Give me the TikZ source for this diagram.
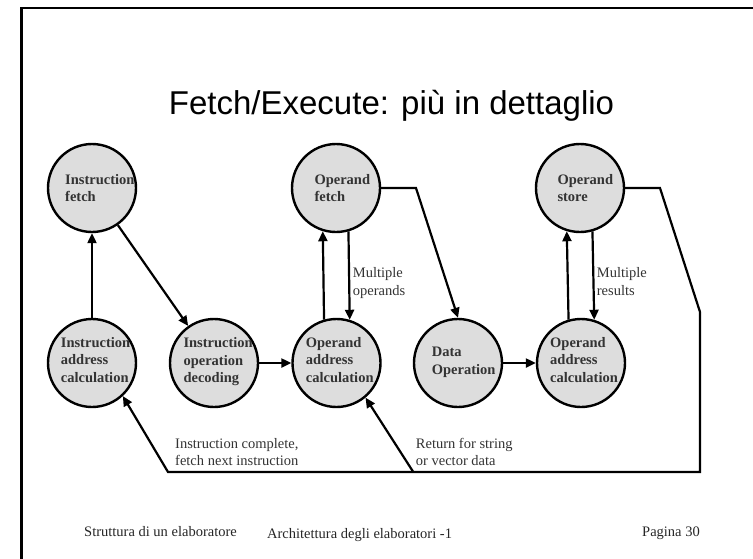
\documentclass[tikz,border=0pt]{standalone}
\usepackage{fontspec}
\setmainfont{Liberation Serif}
\newfontfamily\titlefont{Liberation Sans}
\usetikzlibrary{arrows.meta}
\definecolor{nodefill}{HTML}{DDDDDD}
\definecolor{txt}{HTML}{333333}
\begin{document}
\begin{tikzpicture}[x=1pt,y=-1pt,
  state/.style={circle,draw=black,line width=2.4pt,fill=nodefill,minimum size=88pt,inner sep=0pt},
  stxt/.style={font=\fontsize{14.5}{17.7}\selectfont\bfseries,text=txt,align=left,inner sep=0pt,anchor=west},
  lbl/.style={font=\fontsize{14.5}{17.7}\selectfont,text=txt,align=left,inner sep=0pt,anchor=west},
  foot/.style={font=\fontsize{14.5}{17.7}\selectfont,text=black!85,inner sep=0pt,anchor=base west},
  conn/.style={line width=2.2pt,-{Triangle[length=10pt,width=9pt]}},
]
\useasboundingbox (0,0) rectangle (753,558);
% frame
\draw[line width=2.6pt] (21.6,570) -- (21.6,8) -- (770,8);
% title
\node[font=\titlefont\fontsize{33}{40}\selectfont,anchor=base,inner sep=0pt] (title) at (391.5,114) {Fetch/Execute: più in dettaglio};
% states
\node[state] (IF) at (92,188) {};
\node[state] (OF) at (336,188) {};
\node[state] (OS) at (580,188) {};
\node[state] (IAC) at (92,363) {};
\node[state] (IOD) at (214,363) {};
\node[state] (OAC) at (336.5,363) {};
\node[state] (DO) at (458,363) {};
\node[state] (OAC2) at (581,363) {};
% state texts
\node[stxt] (IFt) at (65,188) {Instruction\\fetch};
\node[stxt] (OFt) at (314.3,188) {Operand\\fetch};
\node[stxt] (OSt) at (557.3,188) {Operand\\store};
\node[stxt] (IACt) at (60.7,360) {Instruction\\address\\calculation};
\node[stxt] (IODt) at (183.3,361.7) {Instruction\\operation\\decoding};
\node[stxt] (OACt) at (305.7,360) {Operand\\address\\calculation};
\node[stxt] (DOt) at (431.7,362.2) {Data\\Operation};
\node[stxt] (OAC2t) at (550,360) {Operand\\address\\calculation};
% coordinates
\coordinate (b1) at (416,188);
\coordinate (c1) at (660,188);
\coordinate (c2) at (700,312);
\coordinate (c3) at (700,472);
\coordinate (c4) at (168,472);
\coordinate (c5) at (413.3,472);
% connectors
\draw[conn] (IAC) -- (IF);
\draw[conn] (IF) -- (IOD);
\draw[conn] (IOD) -- (OAC);
\draw[conn] (OAC.106.5) -- (OF.253.5);
\draw[conn] (OF.286.5) -- (OAC.73.5);
\draw[conn] (OF.east) -- (b1) -- (DO.north);
\draw[conn] (DO) -- (OAC2);
\draw[conn] (OAC2.106.5) -- (OS.253.5);
\draw[conn] (OS.286.5) -- (OAC2.73.5);
\draw[conn] (OS.east) -- (c1) -- (c2) -- (c3) -- (c4) -- (IAC.-47.7);
\draw[conn] (c5) -- (OAC.-50);
% labels
\node[lbl] (mo) at (352.7,283) {Multiple\\operands};
\node[lbl] (mr) at (596.7,281.5) {Multiple\\results};
\node[lbl] (ic) at (175,452) {Instruction complete,\\fetch next instruction};
\node[lbl] (rs) at (415.7,452) {Return for string\\or vector data};
% footer
\node[foot] (f1) at (84,536) {Struttura di un elaboratore};
\node[foot] (f2) at (267,538) {Architettura degli elaboratori -1};
\node[foot] (f3) at (642,536) {Pagina 30};
\end{tikzpicture}
\end{document}
